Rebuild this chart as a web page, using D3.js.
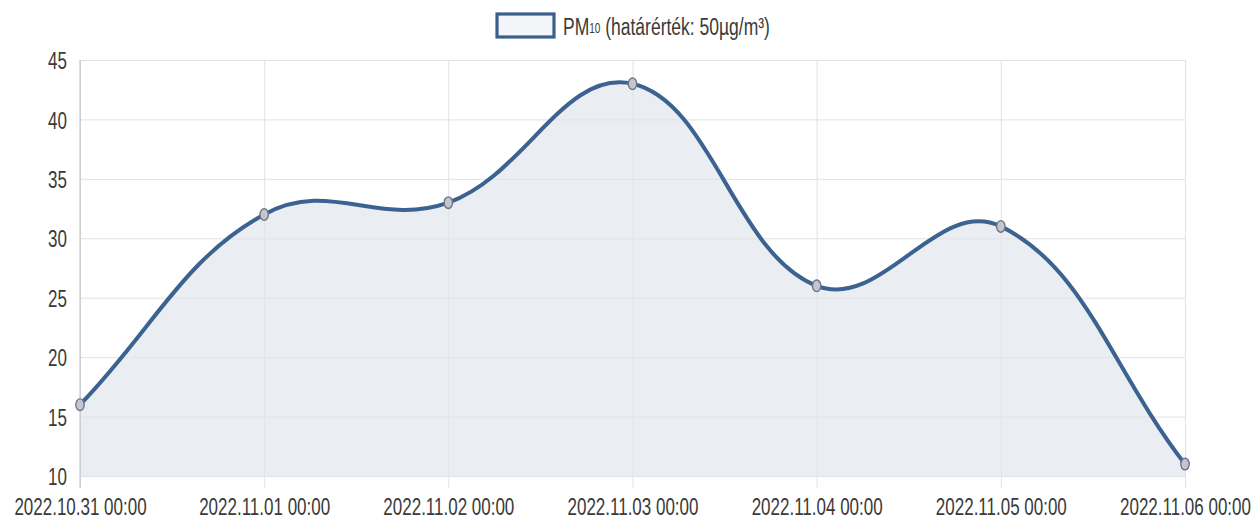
<!DOCTYPE html>
<html><head><meta charset="utf-8">
<script src="https://cdn.jsdelivr.net/npm/d3@7"></script>
<style>
html,body{margin:0;padding:0;background:#fff;}
svg{display:block;font-family:"Liberation Sans",Arial,sans-serif;}
</style></head>
<body>
<svg id="c" width="1254" height="519"></svg>
<script>
const categories = ["2022.10.31 00:00","2022.11.01 00:00","2022.11.02 00:00","2022.11.03 00:00","2022.11.04 00:00","2022.11.05 00:00","2022.11.06 00:00"];
const pm10 = [16, 32, 33, 43, 26, 31, 11];
const yTicks = [10, 15, 20, 25, 30, 35, 40, 45];
const legendMain = "PM";
const legendSub = "10";
const legendRest = " (határérték: 50µg/m³)";

(function () {
const SY = 1.38; // vertical stretch of the scanned image
const svg = d3.select("#c");
const pl = 80, pr = 1185, pt = 60, pb = 476;
const x = d3.scalePoint().domain(categories).range([pl, pr]);
const y = d3.scaleLinear().domain([10, 45]).range([pb, pt]);

const gx = svg.append("g").attr("transform", `translate(0,${pb})`)
  .call(d3.axisBottom(x).tickSize(-(pb - pt)).tickSizeOuter(0).tickFormat(""));
gx.select(".domain").remove();
gx.selectAll(".tick line").attr("stroke", "#e0e2e6").attr("y2", -(pb - pt)).attr("y1", 12);
const gy = svg.append("g").attr("transform", `translate(${pl},0)`)
  .call(d3.axisLeft(y).tickValues(yTicks).tickSize(-(pr - pl)).tickSizeOuter(0).tickFormat(""));
gy.select(".domain").remove();
gy.selectAll(".tick line").attr("stroke", "#e0e2e6");

const pts = pm10.map((v, i) => [x(categories[i]), y(v)]);
const t = 0.4;
const cl = (v, a, b) => Math.max(a, Math.min(b, v));
const cps = pts.map((p, i) => {
  const prev = pts[i - 1] || p, next = pts[i + 1] || p;
  const d01 = Math.hypot(p[0] - prev[0], (p[1] - prev[1]) / SY);
  const d12 = Math.hypot(next[0] - p[0], (next[1] - p[1]) / SY);
  let s01 = d01 / (d01 + d12), s12 = d12 / (d01 + d12);
  if (isNaN(s01)) s01 = 0; if (isNaN(s12)) s12 = 0;
  const fa = t * s01, fb = t * s12;
  return {
    prev: [cl(p[0] - fa * (next[0] - prev[0]), pl, pr), cl(p[1] - fa * (next[1] - prev[1]), pt, pb)],
    next: [cl(p[0] + fb * (next[0] - prev[0]), pl, pr), cl(p[1] + fb * (next[1] - prev[1]), pt, pb)]
  };
});
function linePath(path) {
  path.moveTo(pts[0][0], pts[0][1]);
  for (let i = 1; i < pts.length; i++) {
    path.bezierCurveTo(cps[i - 1].next[0], cps[i - 1].next[1], cps[i].prev[0], cps[i].prev[1], pts[i][0], pts[i][1]);
  }
  return path;
}
const area = linePath(d3.path());
area.lineTo(pts[pts.length - 1][0], pb);
area.lineTo(pts[0][0], pb);
area.closePath();
svg.append("path").attr("d", area.toString()).attr("fill", "#e8ecf2").attr("fill-opacity", 0.9);

gy.raise();
gx.raise();

svg.append("line").attr("x1", pl).attr("x2", pl).attr("y1", pt).attr("y2", pb + 12)
  .attr("stroke", "#b8bcc2").attr("stroke-width", 1);

svg.append("path").attr("d", linePath(d3.path()).toString())
  .attr("fill", "none").attr("stroke", "#3b6290").attr("stroke-width", 4);

svg.selectAll("ellipse.pt").data(pts).join("ellipse").attr("class", "pt")
  .attr("cx", d => d[0]).attr("cy", d => d[1]).attr("rx", 4.2).attr("ry", 5.8)
  .attr("fill", "#c3c6cf").attr("stroke", "#6f7585").attr("stroke-width", 1.4);

const ay = svg.append("g").attr("transform", `translate(${pl},0)`)
  .call(d3.axisLeft(y).tickValues(yTicks).tickSize(0).tickPadding(13));
ay.select(".domain").remove();
ay.selectAll("text").attr("font-size", 17).attr("fill", "#3a3a3a").attr("font-family", "Liberation Sans, Arial, sans-serif")
  .attr("dy", null).attr("dominant-baseline", "central").attr("transform", `scale(1,${SY})`);

const ax = svg.append("g").attr("transform", `translate(0,${pb})`)
  .call(d3.axisBottom(x).tickSize(0).tickPadding(0));
ax.select(".domain").remove();
ax.selectAll("text").attr("font-size", 17).attr("fill", "#3a3a3a").attr("font-family", "Liberation Sans, Arial, sans-serif")
  .attr("y", 0).attr("dy", null).attr("dominant-baseline", "central")
  .attr("transform", `translate(0,30) scale(1,${SY})`);

svg.append("rect").attr("x", 497).attr("y", 14).attr("width", 57).attr("height", 23)
  .attr("fill", "#f3f5f8").attr("stroke", "#3b5f8c").attr("stroke-width", 3.2);
const lt = svg.append("text").attr("font-size", 17.5).attr("fill", "#3a3a3a")
  .attr("transform", `translate(563,25.5) scale(1,${SY})`).attr("dominant-baseline", "central");
lt.append("tspan").text(legendMain);
lt.append("tspan").attr("font-size", 10).attr("dy", 2).text(legendSub);
lt.append("tspan").attr("dy", -2).text(legendRest);
})();
</script>
</body></html>
